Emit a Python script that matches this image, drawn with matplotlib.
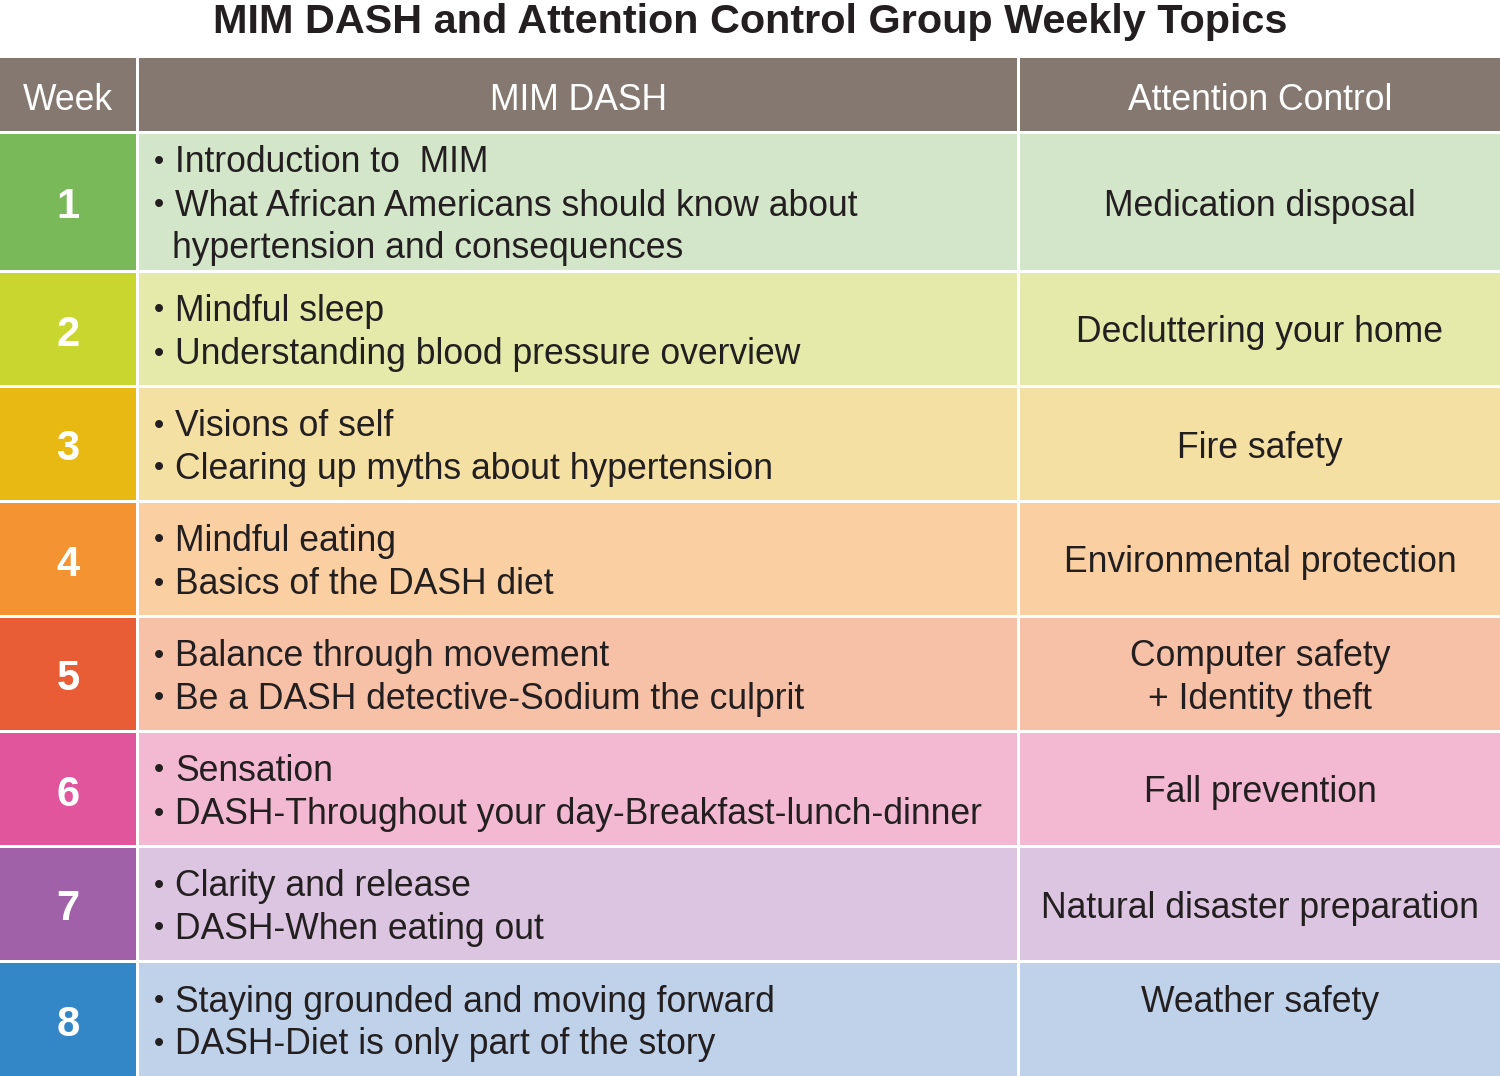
import matplotlib
matplotlib.use("Agg")
import matplotlib.pyplot as plt
from matplotlib.patches import Rectangle

plt.rcParams['font.family'] = ['Liberation Sans', 'DejaVu Sans']

title = "MIM DASH and Attention Control Group Weekly Topics"
headers = ["Week", "MIM DASH", "Attention Control"]
weeks = ["1", "2", "3", "4", "5", "6", "7", "8"]
mim_topics = [
    ["Introduction to  MIM", "What African Americans should know about", "hypertension and consequences"],
    ["Mindful sleep", "Understanding blood pressure overview"],
    ["Visions of self", "Clearing up myths about hypertension"],
    ["Mindful eating", "Basics of the DASH diet"],
    ["Balance through movement", "Be a DASH detective-Sodium the culprit"],
    ["Sensation", "DASH-Throughout your day-Breakfast-lunch-dinner"],
    ["Clarity and release", "DASH-When eating out"],
    ["Staying grounded and moving forward", "DASH-Diet is only part of the story"],
]
# which lines start with a bullet
mim_bullets = [
    [True, True, False],
    [True, True], [True, True], [True, True], [True, True],
    [True, True], [True, True], [True, True],
]
ac_topics = [
    ["Medication disposal"],
    ["Decluttering your home"],
    ["Fire safety"],
    ["Environmental protection"],
    ["Computer safety", "+ Identity theft"],
    ["Fall prevention"],
    ["Natural disaster preparation"],
    ["Weather safety"],
]

header_color = "#857870"
dark_colors = ["#79b95a", "#c8d62f", "#e8b813", "#f39332", "#e85c36", "#e0559b", "#a061a8", "#3387c6"]
light_colors = ["#d4e6c9", "#e5eaab", "#f5e0a3", "#fad0a3", "#f6c1a7", "#f3b9d3", "#dbc5e0", "#bfd2ea"]
text_color = "#231f20"

W, H = 1500, 1076
fig = plt.figure(figsize=(15, 10.76), dpi=100)
ax = fig.add_axes([0, 0, 1, 1])
ax.set_xlim(0, W)
ax.set_ylim(H, 0)
ax.axis("off")

col_x = [(0, 136), (139, 1017), (1020, 1500)]
header_y = (58, 131)
row_tops = [134, 273, 388, 503, 618, 733, 848, 963]
row_bots = [270, 385, 500, 615, 730, 845, 960, 1076]

FS = 25.6
ax.text(750, 18, title, ha="center", va="center_baseline", fontsize=29.8, fontweight="bold", color=text_color)

for (x0, x1), h in zip(col_x, headers):
    ax.add_patch(Rectangle((x0, header_y[0]), x1 - x0, header_y[1] - header_y[0], color=header_color, lw=0))
    ax.text((x0 + x1) / 2, 97, h, ha="center", va="center_baseline",
            fontsize=FS, color="white")

line_gap = 43
for i in range(len(weeks)):
    t, b = row_tops[i], row_bots[i]
    cy = (t + b) / 2
    ax.add_patch(Rectangle((col_x[0][0], t), col_x[0][1] - col_x[0][0], b - t, color=dark_colors[i], lw=0))
    ax.add_patch(Rectangle((col_x[1][0], t), col_x[1][1] - col_x[1][0], b - t, color=light_colors[i], lw=0))
    ax.add_patch(Rectangle((col_x[2][0], t), col_x[2][1] - col_x[2][0], b - t, color=light_colors[i], lw=0))
    ax.text(68, cy + 1, weeks[i], ha="center", va="center_baseline", fontsize=30, fontweight="bold", color="white")
    lines = mim_topics[i]
    n = len(lines)
    y0 = cy - (n - 1) * line_gap / 2
    for j, (ln, bul) in enumerate(zip(lines, mim_bullets[i])):
        yy = y0 + j * line_gap
        if bul:
            ax.text(154, yy, "•", ha="left", va="center_baseline", fontsize=21, color=text_color)
            ax.text(175, yy, ln, ha="left", va="center_baseline", fontsize=FS, color=text_color)
        else:
            ax.text(172, yy, ln, ha="left", va="center_baseline", fontsize=FS, color=text_color)
    ac = ac_topics[i]
    if i == len(weeks) - 1:
        ay0 = y0
    else:
        ay0 = cy - (len(ac) - 1) * line_gap / 2
    for j, ln in enumerate(ac):
        ax.text(1260, ay0 + j * line_gap, ln, ha="center", va="center_baseline", fontsize=FS, color=text_color)

fig.savefig("out.png", dpi=100)
